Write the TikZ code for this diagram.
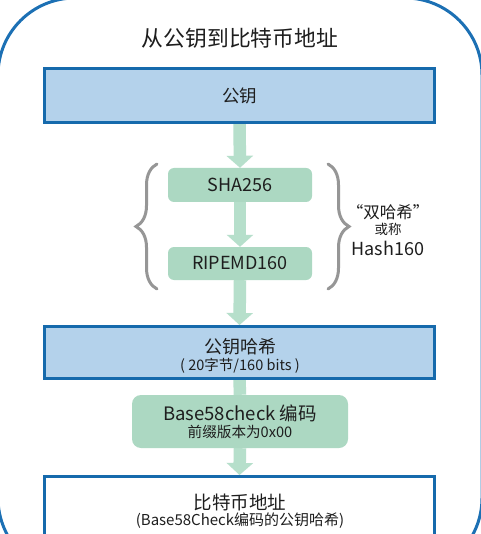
\documentclass[tikz,border=0pt]{standalone}
\usepackage{fontspec}
\setmainfont{Noto Sans CJK SC}
\usetikzlibrary{arrows.meta,decorations.pathreplacing,backgrounds}
\definecolor{frameblue}{RGB}{28,112,180}
\definecolor{boxborder}{RGB}{22,106,172}
\definecolor{boxfill}{RGB}{180,210,235}
\definecolor{greenfill}{RGB}{172,216,194}
\definecolor{arrowgreen}{RGB}{182,223,203}
\definecolor{bracegray}{RGB}{150,150,150}
\definecolor{txt}{RGB}{30,30,30}
\tikzset{
  bluebox/.style={draw=boxborder,line width=3pt,fill=boxfill,minimum width=390pt,inner sep=0pt,text=txt,align=center},
  whitebox/.style={draw=boxborder,line width=3pt,fill=white,minimum width=390pt,inner sep=0pt},
  greenbox/.style={fill=greenfill,rounded corners=6pt,inner sep=0pt,text=txt,align=center},
  flow/.style={draw=arrowgreen,line width=12.5pt,-{Triangle[width=26pt,length=12pt]}},
  flowshaft/.style={draw=arrowgreen,line width=12.5pt},
  bracestyle/.style={draw=bracegray,line width=3pt,line cap=round,decorate,decoration={brace,amplitude=21pt,raise=0pt}},
  lbl/.style={text=txt,inner sep=0pt,align=center}
}
\begin{document}
\begin{tikzpicture}[x=1pt,y=-1pt]
\useasboundingbox (0,0) rectangle (480,534);

\node[lbl,font=\fontsize{21.8}{24}\selectfont] (title) at (240,38) {从公钥到比特币地址};

\node[bluebox,minimum height=54pt,font=\fontsize{17.5}{20}\selectfont] (pk) at (239.5,95.5) {公钥};
\node[greenbox,minimum width=144pt,minimum height=34pt,font=\fontsize{18}{20}\selectfont] (sha) at (240,185) {SHA256};
\node[greenbox,minimum width=144pt,minimum height=33pt,font=\fontsize{18}{20}\selectfont] (rip) at (240,263.5) {RIPEMD160};
\node[bluebox,minimum height=52pt] (pkh) at (239.5,352.5) {};
\node[lbl,font=\fontsize{18}{20}\selectfont] (pkht) at (240,347) {公钥哈希};
\node[lbl,font=\fontsize{14.5}{16}\selectfont] (pkhs) at (240,366) {( 20字节/160 bits )};
\node[greenbox,minimum width=216pt,minimum height=53pt,rounded corners=9pt] (b58) at (240,421.5) {};
\node[lbl,font=\fontsize{18.5}{20}\selectfont] (b58t) at (240,413) {Base58check 编码};
\node[lbl,font=\fontsize{14.6}{16}\selectfont] (b58s) at (240,432) {前缀版本为0x00};
\node[whitebox,minimum height=80pt] (addr) at (239.5,516.5) {};
\node[lbl,font=\fontsize{18.5}{21}\selectfont] (addrt) at (240,502) {比特币地址};
\node[lbl,font=\fontsize{15}{17}\selectfont] (addrs) at (240,520.5) {(Base58Check编码的公钥哈希)};

\begin{scope}[on background layer]
\fill[white] (0,0) rectangle (480,534);
\draw[frameblue,line width=3pt,rounded corners=77pt] (-2,-2) rectangle (482,575);
\draw[flow] (pk.south) -- (sha.north);
\draw[flow] (sha.south) -- (rip.north);
\draw[flow] (rip.south) -- (pkh.north);
\draw[flowshaft] (pkh.south) -- (b58.north);
\draw[flow] (b58.south) -- (addr.north);
\end{scope}

\coordinate (lb1) at (157,289);
\coordinate (lb2) at (157,164);
\coordinate (rb1) at (328,164);
\coordinate (rb2) at (328,289);
\draw[bracestyle] (lb1) -- (lb2);
\draw[bracestyle] (rb1) -- (rb2);

\node[lbl,font=\fontsize{16.5}{19}\selectfont] (dh) at (388,212) {“双哈希”};
\node[lbl,font=\fontsize{13.5}{15}\selectfont] (hc) at (388,229.5) {或称};
\node[lbl,font=\fontsize{18}{20}\selectfont] (h160) at (388,248) {Hash160};
\end{tikzpicture}
\end{document}
